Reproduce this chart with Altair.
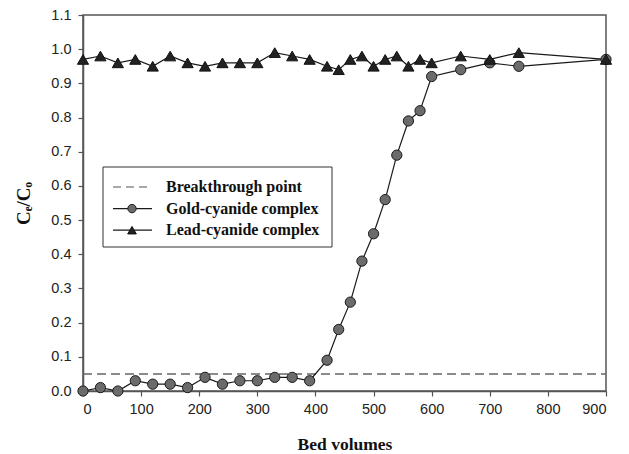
import altair as alt
import pandas as pd

# ---- data ----
bed_gold = [0, 30, 60, 90, 120, 150, 180, 210, 240, 270, 300, 330, 360, 390,
            420, 440, 460, 480, 500, 520, 540, 560, 580, 600, 650, 700, 750, 900]
gold_vals = [0.00, 0.01, 0.00, 0.03, 0.02, 0.02, 0.01, 0.04, 0.02, 0.03, 0.03, 0.04, 0.04, 0.03,
             0.09, 0.18, 0.26, 0.38, 0.46, 0.56, 0.69, 0.79, 0.82, 0.92, 0.94, 0.96, 0.95, 0.97]
bed_lead = [0, 30, 60, 90, 120, 150, 180, 210, 240, 270, 300, 330, 360, 390,
            420, 440, 460, 480, 500, 520, 540, 560, 580, 600, 650, 700, 750, 900]
lead_vals = [0.97, 0.98, 0.96, 0.97, 0.95, 0.98, 0.96, 0.95, 0.96, 0.96, 0.96, 0.99, 0.98, 0.97,
             0.95, 0.94, 0.97, 0.98, 0.95, 0.97, 0.98, 0.95, 0.97, 0.96, 0.98, 0.97, 0.99, 0.97]
breakthrough_x = [0, 900]
breakthrough_y = [0.05, 0.05]
x_ticks = [0, 100, 200, 300, 400, 500, 600, 700, 800, 900]
y_ticks = [0.0, 0.1, 0.2, 0.3, 0.4, 0.5, 0.6, 0.7, 0.8, 0.9, 1.0, 1.1]
legend_labels = ["Breakthrough point", "Gold-cyanide complex", "Lead-cyanide complex"]

gold = pd.DataFrame({"bv": bed_gold, "c": gold_vals})
lead = pd.DataFrame({"bv": bed_lead, "c": lead_vals})
brk = pd.DataFrame({"bv": breakthrough_x, "c": breakthrough_y})
leg = pd.DataFrame({"label": legend_labels, "i": list(range(len(legend_labels)))})

W, H = 523, 376
AXC = "#555555"
SERIF = "Liberation Serif"
SANS = "Liberation Sans"

xs = alt.Scale(domain=[0, 900], nice=False, zero=False)
ys = alt.Scale(domain=[0, 1.1], nice=False)

X = alt.X("bv:Q", scale=xs, axis=alt.Axis(
    values=x_ticks, title="Bed volumes", grid=False, labelPadding=6,
    titleFont=SERIF, titleFontWeight="bold", titleFontSize=17.5, titleColor="#111",
    titleY=53, titleBaseline="middle"))
Y = alt.Y("c:Q", scale=ys, axis=alt.Axis(
    values=y_ticks, format=".1f", title="Cₑ/Cₒ", grid=False, labelPadding=7,
    titleFont=SERIF, titleFontWeight="bold", titleFontSize=19, titleColor="#111",
    titleX=-60, titleY=H / 2, titleAngle=-90, titleBaseline="middle", titleAlign="center"))

brk_line = alt.Chart(brk).mark_line(color="#666666", strokeDash=[9, 5], strokeWidth=1.5).encode(X, Y)
gold_line = alt.Chart(gold).mark_line(color="#1a1a1a", strokeWidth=1.2).encode(X, Y)
gold_pts = alt.Chart(gold).mark_point(shape="circle", filled=True, fill="#6b6b6b",
                                      stroke="#1a1a1a", strokeWidth=1, size=105,
                                      opacity=1).encode(X, Y)
lead_line = alt.Chart(lead).mark_line(color="#1a1a1a", strokeWidth=1.2).encode(X, Y)
lead_pts = alt.Chart(lead).mark_point(shape="triangle-up", filled=True, fill="#222222",
                                      stroke="#111111", strokeWidth=1, size=125,
                                      opacity=1).encode(X, Y)

# ---- custom legend (pixel positions inside the plot area) ----
LX0, LX1, LY0, LY1 = 103 - 83, 332 - 83, 167 - 15, 247 - 15
box = alt.Chart(pd.DataFrame({"a": [0]})).mark_rect(
    fill="white", stroke="#333333", strokeWidth=1).encode(
    x=alt.value(LX0), x2=alt.value(LX1), y=alt.value(LY0), y2=alt.value(LY1))

legbase = alt.Chart(leg).transform_calculate(py="172 + datum.i * 21.6")
sym_lines = legbase.mark_rule(color="#1a1a1a", strokeWidth=1.2).encode(
    x=alt.value(113 - 83), x2=alt.value(152 - 83),
    y=alt.Y("py:Q", scale=None),
    strokeDash=alt.condition("datum.i == 0", alt.value([8, 5]), alt.value([1, 0])),
    color=alt.condition("datum.i == 0", alt.value("#555555"), alt.value("#1a1a1a")))
sym_circ = legbase.transform_filter("datum.i == 1").mark_point(
    shape="circle", filled=True, fill="#6b6b6b", stroke="#1a1a1a", strokeWidth=1,
    size=70, opacity=1).encode(x=alt.value(132 - 83), y=alt.Y("py:Q", scale=None))
sym_tri = legbase.transform_filter("datum.i == 2").mark_point(
    shape="triangle-up", filled=True, fill="#222222", stroke="#111111", strokeWidth=1,
    size=75, opacity=1).encode(x=alt.value(132 - 83), y=alt.Y("py:Q", scale=None))
leg_text = legbase.mark_text(align="left", baseline="middle", font=SERIF,
                             fontWeight="bold", fontSize=16, color="#111").encode(
    x=alt.value(166 - 83), y=alt.Y("py:Q", scale=None), text="label:N")

chart = alt.layer(
    brk_line, gold_line, lead_line, gold_pts, lead_pts,
    box, sym_lines, sym_circ, sym_tri, leg_text
).properties(
    width=W, height=H,
    autosize=alt.AutoSizeParams(type="none"),
    padding={"left": 83, "top": 15, "right": 23, "bottom": 63},
    background="white",
).configure_view(
    stroke=AXC, strokeWidth=1.5
).configure_axis(
    domainColor=AXC, domainWidth=1.5, tickColor=AXC, tickWidth=1.2, tickSize=5,
    labelFont=SANS, labelFontSize=14.5, labelColor="#222",
)

chart.save("out.html", embed_options={"renderer": "svg", "actions": False})
